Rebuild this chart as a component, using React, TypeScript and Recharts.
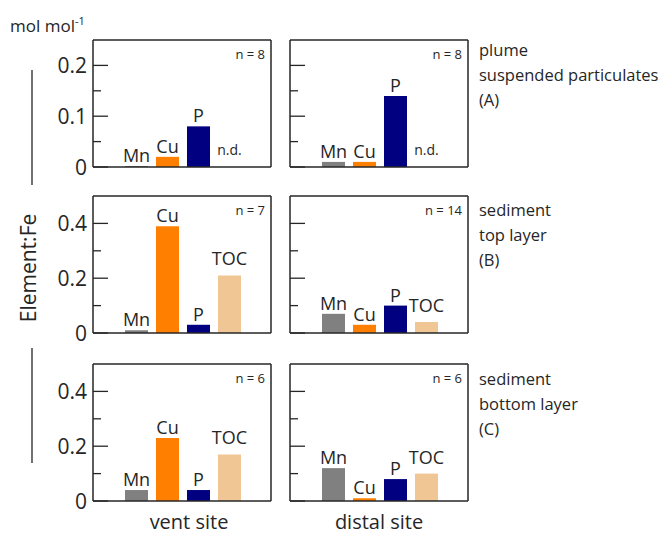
import { Bar, BarChart, Cell, LabelList, ReferenceDot, XAxis, YAxis } from "recharts";

const INK = "#262626";
const FONT = "'Open Sans', 'DejaVu Sans', sans-serif";

const ELEMENTS = ["Mn", "Cu", "P", "TOC"];
const COLORS = ["#808080", "#ff7f00", "#000080", "#efc694"];
// TOC labels sit a little higher above their bars
const LABEL_LIFT = [4, 4, 4, 10];
const ND = "n.d.";

// null = not determined (n.d.)
const plumeVent = [0, 0.02, 0.08, null];
const plumeDistal = [0.01, 0.01, 0.14, null];
const topVent = [0.01, 0.39, 0.03, 0.21];
const topDistal = [0.07, 0.03, 0.1, 0.04];
const bottomVent = [0.04, 0.23, 0.04, 0.17];
const bottomDistal = [0.12, 0.01, 0.08, 0.1];

const PLUME_TICKS = [0, 0.05, 0.1, 0.15, 0.2];
const PLUME_MAX = 0.25;
const SED_TICKS = [0, 0.1, 0.2, 0.3, 0.4];
const SED_MAX = 0.5;

const COUNTS = [
  [8, 8],
  [7, 14],
  [6, 6],
];

const ROW_LABELS = [
  ["plume", "suspended particulates", "(A)"],
  ["sediment", "top layer", "(B)"],
  ["sediment", "bottom layer", "(C)"],
];
const COL_LABELS = ["vent site", "distal site"];

// layout of the six boxes
const COL_X = [93, 290];
const BOX_W = 178;
const ROW_Y = [40, 196, 364];
const ROW_H = [127, 137, 137];
const M = 12;

type Row = { name: string; value: number | null; tag: string; fill: string };

function rows(values: (number | null)[]): Row[] {
  return ELEMENTS.map((name, i) => ({
    name,
    value: values[i],
    tag: values[i] == null ? ND : name,
    fill: COLORS[i],
  }));
}

function AxisTick(props: any) {
  const { x, y, payload, majors, showText } = props;
  const major = majors.includes(payload.value);
  return (
    <g>
      <line x1={x} x2={x + (major ? 15 : 8)} y1={y} y2={y} stroke={INK} strokeWidth={1.3} />
      {showText && major && (
        <text
          x={x - 6}
          y={y}
          dy="0.36em"
          textAnchor="end"
          fontSize={21}
          fill={INK}
          fontFamily={FONT}
        >
          {String(payload.value)}
        </text>
      )}
    </g>
  );
}

function renderTag(p: any) {
  const { x, y, width, value } = p;
  if (value === ND) return null;
  const lift = LABEL_LIFT[ELEMENTS.indexOf(value)] ?? 4;
  return (
    <text x={x + width / 2} y={y - lift} textAnchor="middle" fontSize={18} fill={INK} fontFamily={FONT}>
      {value}
    </text>
  );
}

function Panel({
  values,
  ticks,
  max,
  col,
  row,
  n,
}: {
  values: (number | null)[];
  ticks: number[];
  max: number;
  col: number;
  row: number;
  n: number;
}) {
  const data = rows(values);
  const padL = col === 0 ? 70 : 12;
  const h = ROW_H[row];
  const majors = ticks.filter((_, i) => i % 2 === 0);
  const box = { stroke: INK, strokeWidth: 1.5 };

  return (
    <div style={{ position: "absolute", left: COL_X[col] - padL, top: ROW_Y[row] - M - 1 }}>
      <BarChart
        width={padL + BOX_W + 1 + M}
        height={h + 2 * M + 2}
        data={data}
        margin={{ top: M, right: M, bottom: M, left: 0 }}
        barSize={23}
      >
        <XAxis
          xAxisId="b"
          dataKey="name"
          tick={false}
          tickLine={false}
          axisLine={box}
          height={1}
          padding={{ left: 28, right: 26 }}
        />
        <XAxis
          xAxisId="t"
          orientation="top"
          dataKey="name"
          tick={false}
          tickLine={false}
          axisLine={box}
          height={1}
        />
        <YAxis
          yAxisId="l"
          domain={[0, max]}
          ticks={ticks}
          interval={0}
          tickSize={0}
          tickMargin={0}
          tickLine={false}
          axisLine={box}
          width={padL}
          tick={(p: any) => <AxisTick {...p} majors={majors} showText={col === 0} />}
        />
        <YAxis
          yAxisId="r"
          orientation="right"
          domain={[0, max]}
          tick={false}
          tickLine={false}
          axisLine={box}
          width={1}
        />
        <Bar xAxisId="b" yAxisId="l" dataKey="value" minPointSize={1} isAnimationActive={false}>
          {data.map((d) => (
            <Cell key={d.name} fill={d.fill} />
          ))}
          <LabelList dataKey="tag" content={renderTag} />
        </Bar>
        {data
          .filter((d) => d.value == null)
          .map((d) => (
            <ReferenceDot
              key={d.name}
              xAxisId="b"
              yAxisId="l"
              x={d.name}
              y={0}
              r={0}
              stroke="none"
              label={{ value: d.tag, position: "top", offset: 12, fontSize: 14, fill: INK, fontFamily: FONT }}
            />
          ))}
      </BarChart>
      <div
        style={{
          position: "absolute",
          left: padL + BOX_W - 6,
          top: M + 7,
          transform: "translateX(-100%)",
          fontFamily: FONT,
          fontSize: 13,
          lineHeight: "16px",
          color: INK,
          whiteSpace: "nowrap",
        }}
      >
        n = {n}
      </div>
    </div>
  );
}

export default function App() {
  const txt = { fontFamily: FONT, fill: INK };
  return (
    <div style={{ position: "absolute", left: 0, top: 0, width: 666, height: 540, background: "#fff" }}>
      <Panel values={plumeVent} ticks={PLUME_TICKS} max={PLUME_MAX} col={0} row={0} n={COUNTS[0][0]} />
      <Panel values={plumeDistal} ticks={PLUME_TICKS} max={PLUME_MAX} col={1} row={0} n={COUNTS[0][1]} />
      <Panel values={topVent} ticks={SED_TICKS} max={SED_MAX} col={0} row={1} n={COUNTS[1][0]} />
      <Panel values={topDistal} ticks={SED_TICKS} max={SED_MAX} col={1} row={1} n={COUNTS[1][1]} />
      <Panel values={bottomVent} ticks={SED_TICKS} max={SED_MAX} col={0} row={2} n={COUNTS[2][0]} />
      <Panel values={bottomDistal} ticks={SED_TICKS} max={SED_MAX} col={1} row={2} n={COUNTS[2][1]} />

      <svg width={666} height={540} style={{ position: "absolute", left: 0, top: 0, pointerEvents: "none" }}>
        <text x={10} y={32} fontSize={17} {...txt}>
          mol mol
          <tspan dy={-7} fontSize={11}>-1</tspan>
        </text>
        <line x1={32} x2={32} y1={70} y2={185} stroke={INK} strokeWidth={1.3} />
        <line x1={32} x2={32} y1={348} y2={463} stroke={INK} strokeWidth={1.3} />
        <text
          x={28}
          y={268}
          fontSize={21}
          textAnchor="middle"
          dominantBaseline="central"
          transform="rotate(-90 28 268)"
          {...txt}
        >
          Element:Fe
        </text>
        {ROW_LABELS.map((lines, r) =>
          lines.map((line, i) => (
            <text key={`${r}-${i}`} x={479} y={[56, 216, 385][r] + i * 25} fontSize={16.5} {...txt}>
              {line}
            </text>
          ))
        )}
        {COL_LABELS.map((label, c) => (
          <text key={label} x={[189, 379][c]} y={529} fontSize={20} textAnchor="middle" {...txt}>
            {label}
          </text>
        ))}
      </svg>
    </div>
  );
}
